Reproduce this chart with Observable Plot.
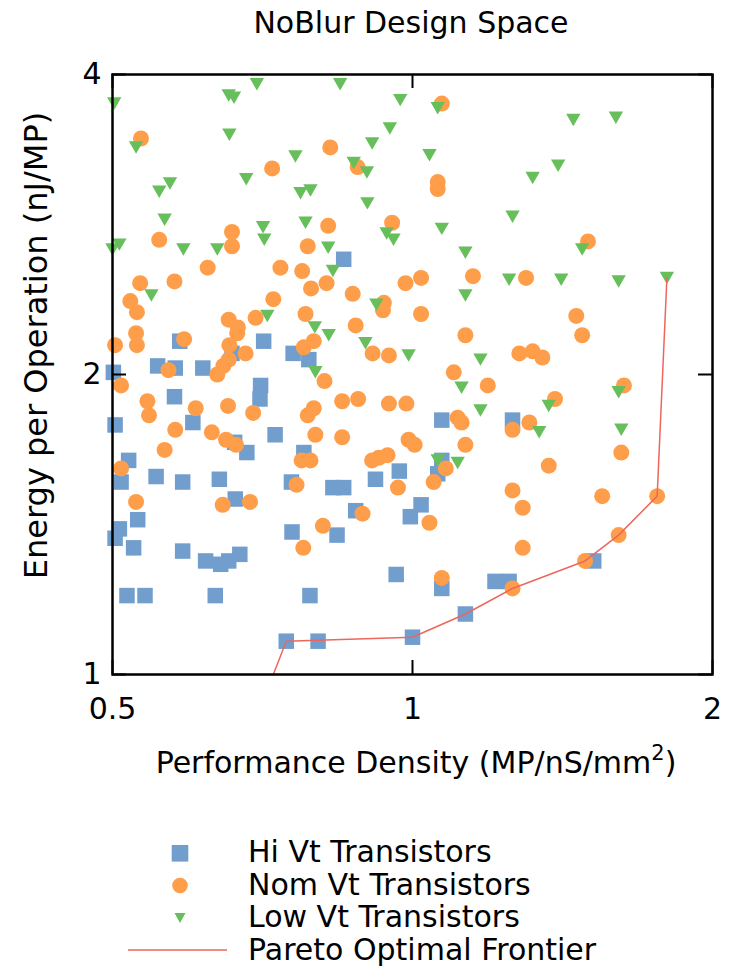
<!DOCTYPE html>
<html>
<head>
<meta charset="utf-8">
<script src="https://cdn.jsdelivr.net/npm/d3@7"></script>
<script src="https://cdn.jsdelivr.net/npm/@observablehq/plot@0.6"></script>
<style>
  body { margin: 0; background: #fff; }
  #wrap { width: 730px; height: 970px; overflow: hidden; background: #fff;
          font-family: "DejaVu Sans", sans-serif; color: #000; }
  #title { height: 45px; box-sizing: border-box; padding-top: 8px; padding-left: 92px;
           font-size: 30px; line-height: 30px; text-align: center; }
  svg { display: block; }
</style>
</head>
<body>
<div id="wrap"><div id="title"></div></div>
<script>
// ---------------- data ----------------
const chartTitle = "NoBlur Design Space";
const xLabelMain = "Performance Density (MP/nS/mm";
const xLabelSup = "2";
const yLabel = "Energy per Operation (nJ/MP)";
const xTicks = [0.5, 1, 2];
const yTicks = [1, 2, 4];
const seriesNames = ["Hi Vt Transistors", "Nom Vt Transistors", "Low Vt Transistors", "Pareto Optimal Frontier"];
const seriesColors = ["#729ECE", "#FF9E4A", "#67BF5C", "#ED665D"];

const hiVtX = [0.501,0.555,0.578,0.616,0.584,0.709,0.659,0.759,0.787,0.853,
  0.577,0.704,0.703,0.503,0.602,0.663,0.728,0.682,0.778,0.519,
  0.510,0.553,0.588,0.640,0.756,0.664,0.530,0.508,0.503,0.525,
  0.757,0.588,0.620,0.642,0.654,0.671,0.517,0.539,0.634,0.789,
  0.747,1.07,1.26,1.07,1.06,0.970,0.918,0.832,0.853,0.877,
  1.02,0.995,0.840,0.963,1.07,1.21,1.25,1.13,0.804,1.00,1.52];
const hiVtY = [2.01,2.04,2.03,2.03,2.16,2.16,2.10,2.10,2.07,2.61,
  1.90,1.95,1.89,1.78,1.79,1.71,1.74,1.67,1.67,1.64,
  1.56,1.58,1.56,1.57,1.56,1.50,1.43,1.40,1.37,1.34,
  1.39,1.33,1.30,1.29,1.30,1.32,1.20,1.20,1.20,1.20,
  1.08,1.80,1.80,1.64,1.59,1.60,1.57,1.54,1.54,1.46,
  1.48,1.44,1.38,1.26,1.22,1.24,1.24,1.15,1.08,1.09,1.30];

const nomVtX = [0.534,0.723,0.659,0.659,0.557,0.785,0.623,0.737,0.775,0.533,
  0.577,0.791,0.521,0.725,0.529,0.654,0.668,0.667,0.696,0.781,
  0.528,0.529,0.503,0.590,0.655,0.680,0.654,0.646,0.637,0.778,
  0.569,1.07,0.827,0.881,1.06,1.06,0.823,0.954,0.820,0.871,
  0.984,1.02,1.15,0.936,0.934,1.02,0.877,0.796,1.13,0.912,
  0.947,0.816,1.10,1.50,1.30,1.46,1.48,1.28,1.32,1.35,
  0.510,0.542,0.544,0.606,0.653,0.692,0.785,0.578,0.629,0.650,
  0.665,0.564,0.774,0.790,0.510,0.765,0.528,0.645,0.687,0.777,
  1.19,0.850,0.882,0.947,0.986,0.796,1.11,1.12,0.799,0.850,
  0.991,1.005,1.13,0.911,0.925,0.944,1.08,1.05,0.967,0.891,
  1.04,0.813,1.07,1.26,1.63,1.39,1.31,1.26,1.62,1.37,
  1.26,1.55,1.76,1.29,1.29,1.61,1.49];
const nomVtY = [3.45,3.22,2.78,2.69,2.73,2.69,2.56,2.56,2.54,2.47,
  2.48,2.44,2.37,2.38,2.31,2.27,2.23,2.20,2.28,2.30,
  2.20,2.14,2.14,2.17,2.14,2.10,2.07,2.04,2.00,2.13,
  2.02,3.74,3.38,3.23,3.12,3.07,2.82,2.84,2.47,2.41,
  2.47,2.50,2.51,2.36,2.32,2.30,2.24,2.16,2.19,2.10,
  2.09,1.97,2.01,2.72,2.50,2.29,2.19,2.10,2.11,2.08,
  1.95,1.88,1.82,1.85,1.86,1.83,1.82,1.76,1.75,1.72,
  1.70,1.68,1.64,1.64,1.61,1.55,1.49,1.48,1.49,1.34,
  1.95,1.88,1.89,1.87,1.87,1.85,1.81,1.79,1.74,1.73,
  1.72,1.70,1.70,1.64,1.65,1.66,1.61,1.56,1.54,1.45,
  1.42,1.41,1.25,1.22,1.95,1.89,1.79,1.76,1.67,1.62,
  1.53,1.51,1.51,1.47,1.34,1.38,1.30];

const lowVtX = [0.502,0.698,0.654,0.662,0.655,0.528,0.763,0.681,0.571,0.557,
  0.772,0.790,0.564,0.781,0.708,0.710,0.508,0.500,0.589,0.637,
  0.547,0.715,0.846,0.972,1.06,0.949,0.911,1.04,0.873,0.900,
  0.901,1.07,0.942,0.957,0.823,1.13,0.832,1.13,0.920,0.798,
  0.824,0.897,0.991,1.17,0.799,1.45,1.60,1.40,1.32,1.26,
  1.48,1.25,1.41,1.61,1.80,1.12,1.17,1.06,1.11,1.61,
  1.37,1.34,1.62];
const lowVtY = [3.74,3.91,3.81,3.79,3.48,3.38,3.31,3.14,3.11,3.05,
  3.04,3.06,2.86,2.84,2.81,2.73,2.70,2.67,2.67,2.67,
  2.40,2.29,3.91,3.77,3.70,3.53,3.41,3.32,3.26,3.19,
  2.97,2.80,2.77,2.73,2.68,2.65,2.54,2.40,2.35,2.23,
  2.19,2.15,2.09,2.07,2.01,3.60,3.62,3.24,3.15,2.88,
  2.67,2.49,2.49,2.48,2.50,1.94,1.84,1.64,1.63,1.92,
  1.86,1.75,1.76];

const paretoX = [0.725,0.747,1.00,1.13,1.26,1.49,1.61,1.76,1.80];
const paretoY = [1.00,1.08,1.09,1.15,1.22,1.30,1.38,1.51,2.50];

// ---------------- build ----------------
const FONT = "DejaVu Sans, sans-serif";
const rows = (xs, ys) => xs.map((x, i) => ({x, y: ys[i]}));
const hiVt = rows(hiVtX, hiVtY);
const nomVt = rows(nomVtX, nomVtY);
const lowVt = rows(lowVtX, lowVtY);
const pareto = rows(paretoX, paretoY);

// downward-pointing triangle, bbox-centred
const triDown = {
  draw(context, size) {
    const w = Math.sqrt(size / Math.PI);
    const h = Math.sqrt(3) * w;
    context.moveTo(-w, -h / 2);
    context.lineTo(w, -h / 2);
    context.lineTo(0, h / 2);
    context.closePath();
  }
};

document.getElementById("title").textContent = chartTitle;

const W = 730, H = 685;
const mT = 29, mB = 56, mL = 112, mR = 18;
const frameH = H - mT - mB;   // 600
const frameW = W - mL - mR;   // 600
const tickLen = 14;

const chart = Plot.plot({
  width: W, height: H,
  marginTop: mT, marginBottom: mB, marginLeft: mL, marginRight: mR,
  style: {fontFamily: FONT, fontSize: "30px", color: "#000", background: "#fff", overflow: "visible"},
  x: {type: "log", base: 2, domain: [0.5, 2]},
  y: {type: "log", base: 2, domain: [1, 4]},
  marks: [
    Plot.axisX(xTicks, {anchor: "bottom", tickSize: 0, tickPadding: 23, tickFormat: d => String(d), label: null}),
    Plot.axisY(yTicks, {anchor: "left", tickSize: 0, tickPadding: 11, tickFormat: d => String(d), label: null}),
    Plot.dot(hiVt, {x: "x", y: "y", symbol: "square", r: 8.75, fill: seriesColors[0]}),
    Plot.dot(nomVt, {x: "x", y: "y", symbol: "circle", r: 8, fill: seriesColors[1]}),
    Plot.dot(lowVt, {x: "x", y: "y", symbol: triDown, r: 7.2, fill: seriesColors[2]}),
    Plot.line(pareto, {x: "x", y: "y", stroke: seriesColors[3], strokeWidth: 1.5}),
    Plot.ruleX(xTicks, {x: d => d, insetTop: frameH - tickLen, stroke: "#000", strokeWidth: 2}),
    Plot.ruleX(xTicks, {x: d => d, insetBottom: frameH - tickLen, stroke: "#000", strokeWidth: 2}),
    Plot.ruleY(yTicks, {y: d => d, insetRight: frameW - tickLen, stroke: "#000", strokeWidth: 2}),
    Plot.ruleY(yTicks, {y: d => d, insetLeft: frameW - tickLen, stroke: "#000", strokeWidth: 2}),
    Plot.frame({stroke: "#000", strokeWidth: 2.5}),
    Plot.text([yLabel], {text: d => d, frameAnchor: "left", rotate: -90, lineAnchor: "bottom",
      textAnchor: "middle", dx: 46 - mL, dy: -29, fontSize: 32, fill: "#000"})
  ]
});
document.getElementById("wrap").appendChild(chart);

// ---------------- x label + legend (below the plot) ----------------
const off = 730; // page y of this block
const leg = d3.create("svg").attr("width", 730).attr("height", 240)
  .style("font-family", FONT).style("font-size", "30px");

const xl = leg.append("text").attr("x", 416).attr("y", 773 - off).attr("text-anchor", "middle").attr("fill", "#000");
xl.append("tspan").text(xLabelMain);
xl.append("tspan").attr("font-size", "21px").attr("dy", -13).text(xLabelSup);
xl.append("tspan").attr("dy", 13).text(")");

const baselines = [861.5, 894.5, 927, 959.5];
const symY = [853.3, 885.5, 918, 950];
const symX = 180;
seriesNames.forEach((name, i) => {
  leg.append("text").attr("x", 248).attr("y", baselines[i] - off).attr("fill", "#000").text(name);
  const cy = symY[i] - off;
  if (i === 0) {
    leg.append("rect").attr("x", symX - 8.3).attr("y", cy - 8.3).attr("width", 16.6).attr("height", 16.6).attr("fill", seriesColors[0]);
  } else if (i === 1) {
    leg.append("circle").attr("cx", symX).attr("cy", cy).attr("r", 7.8).attr("fill", seriesColors[1]);
  } else if (i === 2) {
    leg.append("path").attr("d", `M${symX - 5.5},${cy - 5}L${symX + 5.5},${cy - 5}L${symX},${cy + 5}Z`).attr("fill", seriesColors[2]);
  } else {
    leg.append("line").attr("x1", 128).attr("x2", 227).attr("y1", cy).attr("y2", cy)
      .attr("stroke", seriesColors[3]).attr("stroke-width", 1.5);
  }
});
document.getElementById("wrap").appendChild(leg.node());
</script>
</body>
</html>
